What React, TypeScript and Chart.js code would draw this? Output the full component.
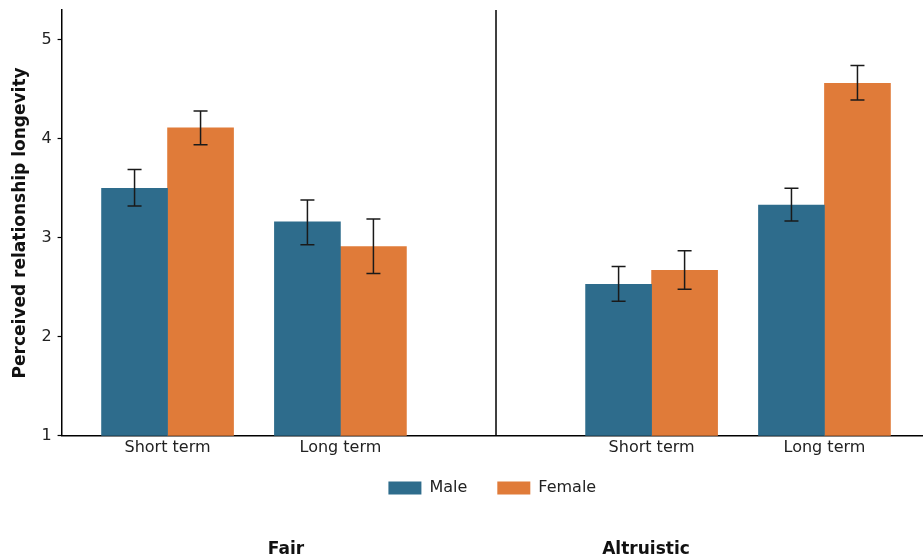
import React, { useEffect, useRef } from 'react';
import { Chart, registerables } from 'chart.js';

Chart.register(...registerables);

// ---- data ----
const conditions = ['Fair', 'Altruistic'];
const terms = ['Short term', 'Long term'];
const seriesNames = ['Male', 'Female'];
const maleMeans = [3.5, 3.16, 2.53, 3.33];
const femaleMeans = [4.11, 2.91, 2.67, 4.56];
const maleLow = [3.32, 2.93, 2.36, 3.17];
const maleHigh = [3.69, 3.38, 2.71, 3.5];
const femaleLow = [3.94, 2.64, 2.48, 4.39];
const femaleHigh = [4.28, 3.19, 2.87, 4.74];
const yTicks = [1, 2, 3, 4, 5];

// ---- layout (category units) ----
const GROUP_START = [0, 2.8];
const DIVIDER = 1.9;
const X_MIN = -0.613;
const X_MAX = 4.37;
const LEGEND_SHIFT = -9;

const COLORS = ['#2E6C8C', '#E07B39'];
const FONT = "'DejaVu Sans', 'Liberation Sans', sans-serif";

const positions: number[] = [];
const tickLabels: string[] = [];
conditions.forEach((_, g) => {
  terms.forEach((t, i) => {
    positions.push(GROUP_START[g] + i);
    tickLabels.push(t);
  });
});

const errors = [
  { low: maleLow, high: maleHigh },
  { low: femaleLow, high: femaleHigh },
];

const errorBarPlugin = {
  id: 'errorBars',
  afterDatasetsDraw(chart: any) {
    const ctx = chart.ctx;
    const y = chart.scales.y;
    ctx.save();
    ctx.strokeStyle = '#1a1a1a';
    ctx.lineWidth = 1.5;
    chart.data.datasets.forEach((_: any, d: number) => {
      const meta = chart.getDatasetMeta(d);
      meta.data.forEach((el: any, i: number) => {
        const x = el.x;
        const yl = y.getPixelForValue(errors[d].low[i]);
        const yh = y.getPixelForValue(errors[d].high[i]);
        const cap = 7;
        ctx.beginPath();
        ctx.moveTo(x, yl);
        ctx.lineTo(x, yh);
        ctx.moveTo(x - cap, yl);
        ctx.lineTo(x + cap, yl);
        ctx.moveTo(x - cap, yh);
        ctx.lineTo(x + cap, yh);
        ctx.stroke();
      });
    });
    ctx.restore();
  },
};

const dividerPlugin = {
  id: 'divider',
  afterDraw(chart: any) {
    const { ctx, chartArea } = chart;
    const px = chart.scales.x.getPixelForValue(DIVIDER);
    ctx.save();
    ctx.strokeStyle = '#000';
    ctx.lineWidth = 1.5;
    ctx.beginPath();
    ctx.moveTo(px, chartArea.top);
    ctx.lineTo(px, chartArea.bottom);
    ctx.stroke();
    ctx.restore();
  },
};

const legendShiftPlugin = {
  id: 'legendShift',
  afterLayout(chart: any) {
    const l = chart.legend;
    if (l) {
      l.top += LEGEND_SHIFT;
      l.bottom += LEGEND_SHIFT;
    }
  },
};

export default function App() {
  const ref = useRef<HTMLCanvasElement | null>(null);

  useEffect(() => {
    document.body.style.margin = '0';
    if (!ref.current) return;
    const means = [maleMeans, femaleMeans];
    const chart = new Chart(ref.current, {
      type: 'bar',
      data: {
        datasets: seriesNames.map((name, d) => ({
          label: name,
          data: positions.map((x, i) => ({ x, y: means[d][i] })),
          backgroundColor: COLORS[d],
          borderWidth: 0,
          barThickness: 66,
        })),
      },
      options: {
        animation: false,
        responsive: false,
        maintainAspectRatio: false,
        layout: { padding: { left: 10, right: 0, top: 10, bottom: 45 } },
        plugins: {
          tooltip: { enabled: false },
          legend: {
            position: 'bottom',
            fullSize: false,
            labels: {
              boxWidth: 33,
              boxHeight: 13,
              padding: 30,
              color: '#222',
              font: { family: FONT, size: 16 },
            },
          },
        },
        scales: {
          x: {
            type: 'linear',
            min: X_MIN,
            max: X_MAX,
            offset: false,
            grid: { display: false, drawTicks: false, offset: false },
            border: { display: true, color: '#000', width: 1.5 },
            afterBuildTicks: (scale: any) => {
              scale.ticks = positions.map((v) => ({ value: v }));
            },
            ticks: {
              padding: 2,
              autoSkip: false,
              maxRotation: 0,
              color: '#222',
              font: { family: FONT, size: 16 },
              callback: (_v: any, i: number) => tickLabels[i],
            },
          },
          y: {
            type: 'linear',
            min: 1,
            max: 5.3,
            afterBuildTicks: (scale: any) => {
              scale.ticks = yTicks.map((v) => ({ value: v }));
            },
            afterFit: (scale: any) => {
              scale.paddingTop = 0;
            },
            grid: { drawOnChartArea: false, drawTicks: true, tickLength: 4, color: '#000', tickWidth: 1.2 },
            border: { display: true, color: '#000', width: 1.5 },
            ticks: {
              padding: 6,
              color: '#222',
              font: { family: FONT, size: 16 },
            },
            title: {
              display: true,
              text: 'Perceived relationship longevity',
              color: '#111',
              padding: { top: 0, bottom: 5 },
              font: { family: FONT, size: 17, weight: 'bold' },
            },
          },
        },
      } as any,
      plugins: [errorBarPlugin, dividerPlugin, legendShiftPlugin],
    });
    return () => chart.destroy();
  }, []);

  const titleStyle: React.CSSProperties = {
    position: 'absolute',
    top: 538,
    transform: 'translateX(-50%)',
    fontFamily: FONT,
    fontWeight: 'bold',
    fontSize: 17,
    color: '#111',
    whiteSpace: 'nowrap',
  };

  return (
    <div style={{ position: 'fixed', left: 0, top: 0, width: 923, height: 560, background: '#fff' }}>
      <canvas ref={ref} width={923} height={560} style={{ display: 'block' }} />
      <span style={{ ...titleStyle, left: 286 }}>{conditions[0]}</span>
      <span style={{ ...titleStyle, left: 646 }}>{conditions[1]}</span>
    </div>
  );
}
